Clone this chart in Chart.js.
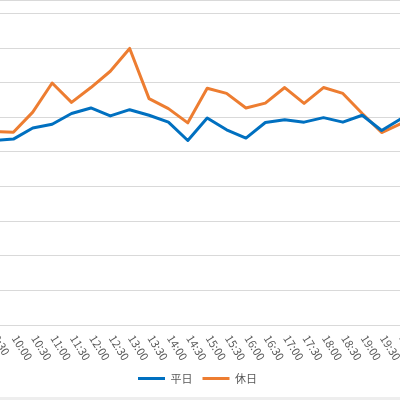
<!DOCTYPE html>
<html lang="ja">
<head>
    <meta charset="UTF-8">
    <title>平日・休日 推移</title>
    <script src="https://cdn.jsdelivr.net/npm/chart.js"></script>
    <style>
        html, body {
            margin: 0;
            padding: 0;
            background: #eeeeee;
        }
        #wrap {
            position: relative;
            width: 400px;
            height: 397px;
            background: #ffffff;
            border-top: 1px solid #d9d9d9;
            box-sizing: border-box;
            overflow: hidden;
        }
        #box {
            position: absolute;
            left: -6px;
            top: 0;
            width: 407px;
            height: 396px;
        }
    </style>
</head>
<body>
    <div id="wrap">
        <div id="box"><canvas id="chart"></canvas></div>
    </div>

    <script>
        // 30-minute slots (chart is cropped at both ends)
        const timeLabels = ['9:30', '10:00', '10:30', '11:00', '11:30', '12:00', '12:30', '13:00',
            '13:30', '14:00', '14:30', '15:00', '15:30', '16:00', '16:30', '17:00', '17:30',
            '18:00', '18:30', '19:00', '19:30', '20:00'];

        const weekdayValues = [53.3, 53.7, 56.9, 58.0, 61.1, 62.7, 60.4, 62.2, 60.6, 58.6, 53.3,
            59.8, 56.4, 54.0, 58.5, 59.3, 58.6, 59.9, 58.6, 60.6, 56.2, 59.6];

        const holidayValues = [55.9, 55.7, 61.5, 69.9, 64.3, 68.6, 73.3, 79.9, 65.4, 62.5, 58.4,
            68.4, 66.9, 62.7, 64.1, 68.6, 64.0, 68.6, 66.9, 61.1, 55.6, 58.2];

        // x labels are slanted down to the right, which Chart.js ticks can't do, so draw them here
        const slantTicks = {
            id: 'slantTicks',
            afterDraw(chart) {
                const { ctx, chartArea, scales: { x } } = chart;
                ctx.save();
                ctx.font = "11px 'Noto Sans CJK JP', sans-serif";
                ctx.fillStyle = '#595959';
                ctx.textAlign = 'left';
                ctx.textBaseline = 'middle';
                timeLabels.forEach((label, i) => {
                    const px = x.getPixelForValue(i);
                    ctx.save();
                    ctx.translate(px + 1.5, chartArea.bottom + 11);
                    ctx.rotate(58 * Math.PI / 180);
                    ctx.fillText(label, 0, 0);
                    ctx.restore();
                });
                ctx.restore();
            }
        };

        new Chart(document.getElementById('chart'), {
            type: 'line',
            data: {
                labels: timeLabels,
                datasets: [{
                    label: '平日',
                    data: weekdayValues,
                    borderColor: '#0070c0',
                    backgroundColor: '#0070c0',
                    borderWidth: 3,
                    pointRadius: 0,
                    tension: 0,
                    borderJoinStyle: 'round'
                }, {
                    label: '休日',
                    data: holidayValues,
                    borderColor: '#ed7d31',
                    backgroundColor: '#ed7d31',
                    borderWidth: 3,
                    pointRadius: 0,
                    tension: 0,
                    borderJoinStyle: 'round'
                }]
            },
            options: {
                responsive: true,
                maintainAspectRatio: false,
                animation: false,
                layout: { padding: { top: 0, left: 0, right: 0, bottom: 3 } },
                scales: {
                    x: {
                        offset: false,
                        grid: { display: false },
                        border: { display: true, color: '#d9d9d9', width: 1 },
                        ticks: { display: false, autoSkip: false },
                        afterFit: (scale) => { scale.height = 38; }
                    },
                    y: {
                        min: 0,
                        max: 93.6,
                        border: { display: false },
                        grid: { color: '#d9d9d9', drawTicks: false, tickLength: 0 },
                        ticks: { display: false, stepSize: 10, includeBounds: false }
                    }
                },
                plugins: {
                    legend: {
                        position: 'bottom',
                        labels: {
                            boxWidth: 27,
                            boxHeight: 3,
                            padding: 10,
                            color: '#595959',
                            font: { family: "'Noto Sans CJK JP', sans-serif", size: 11 },
                            // flat line swatches, no stroked outline
                            generateLabels: (chart) => Chart.defaults.plugins.legend.labels
                                .generateLabels(chart)
                                .map(item => Object.assign(item, { lineWidth: 0 }))
                        }
                    },
                    tooltip: { enabled: false }
                }
            },
            plugins: [slantTicks]
        });
    </script>
</body>
</html>
